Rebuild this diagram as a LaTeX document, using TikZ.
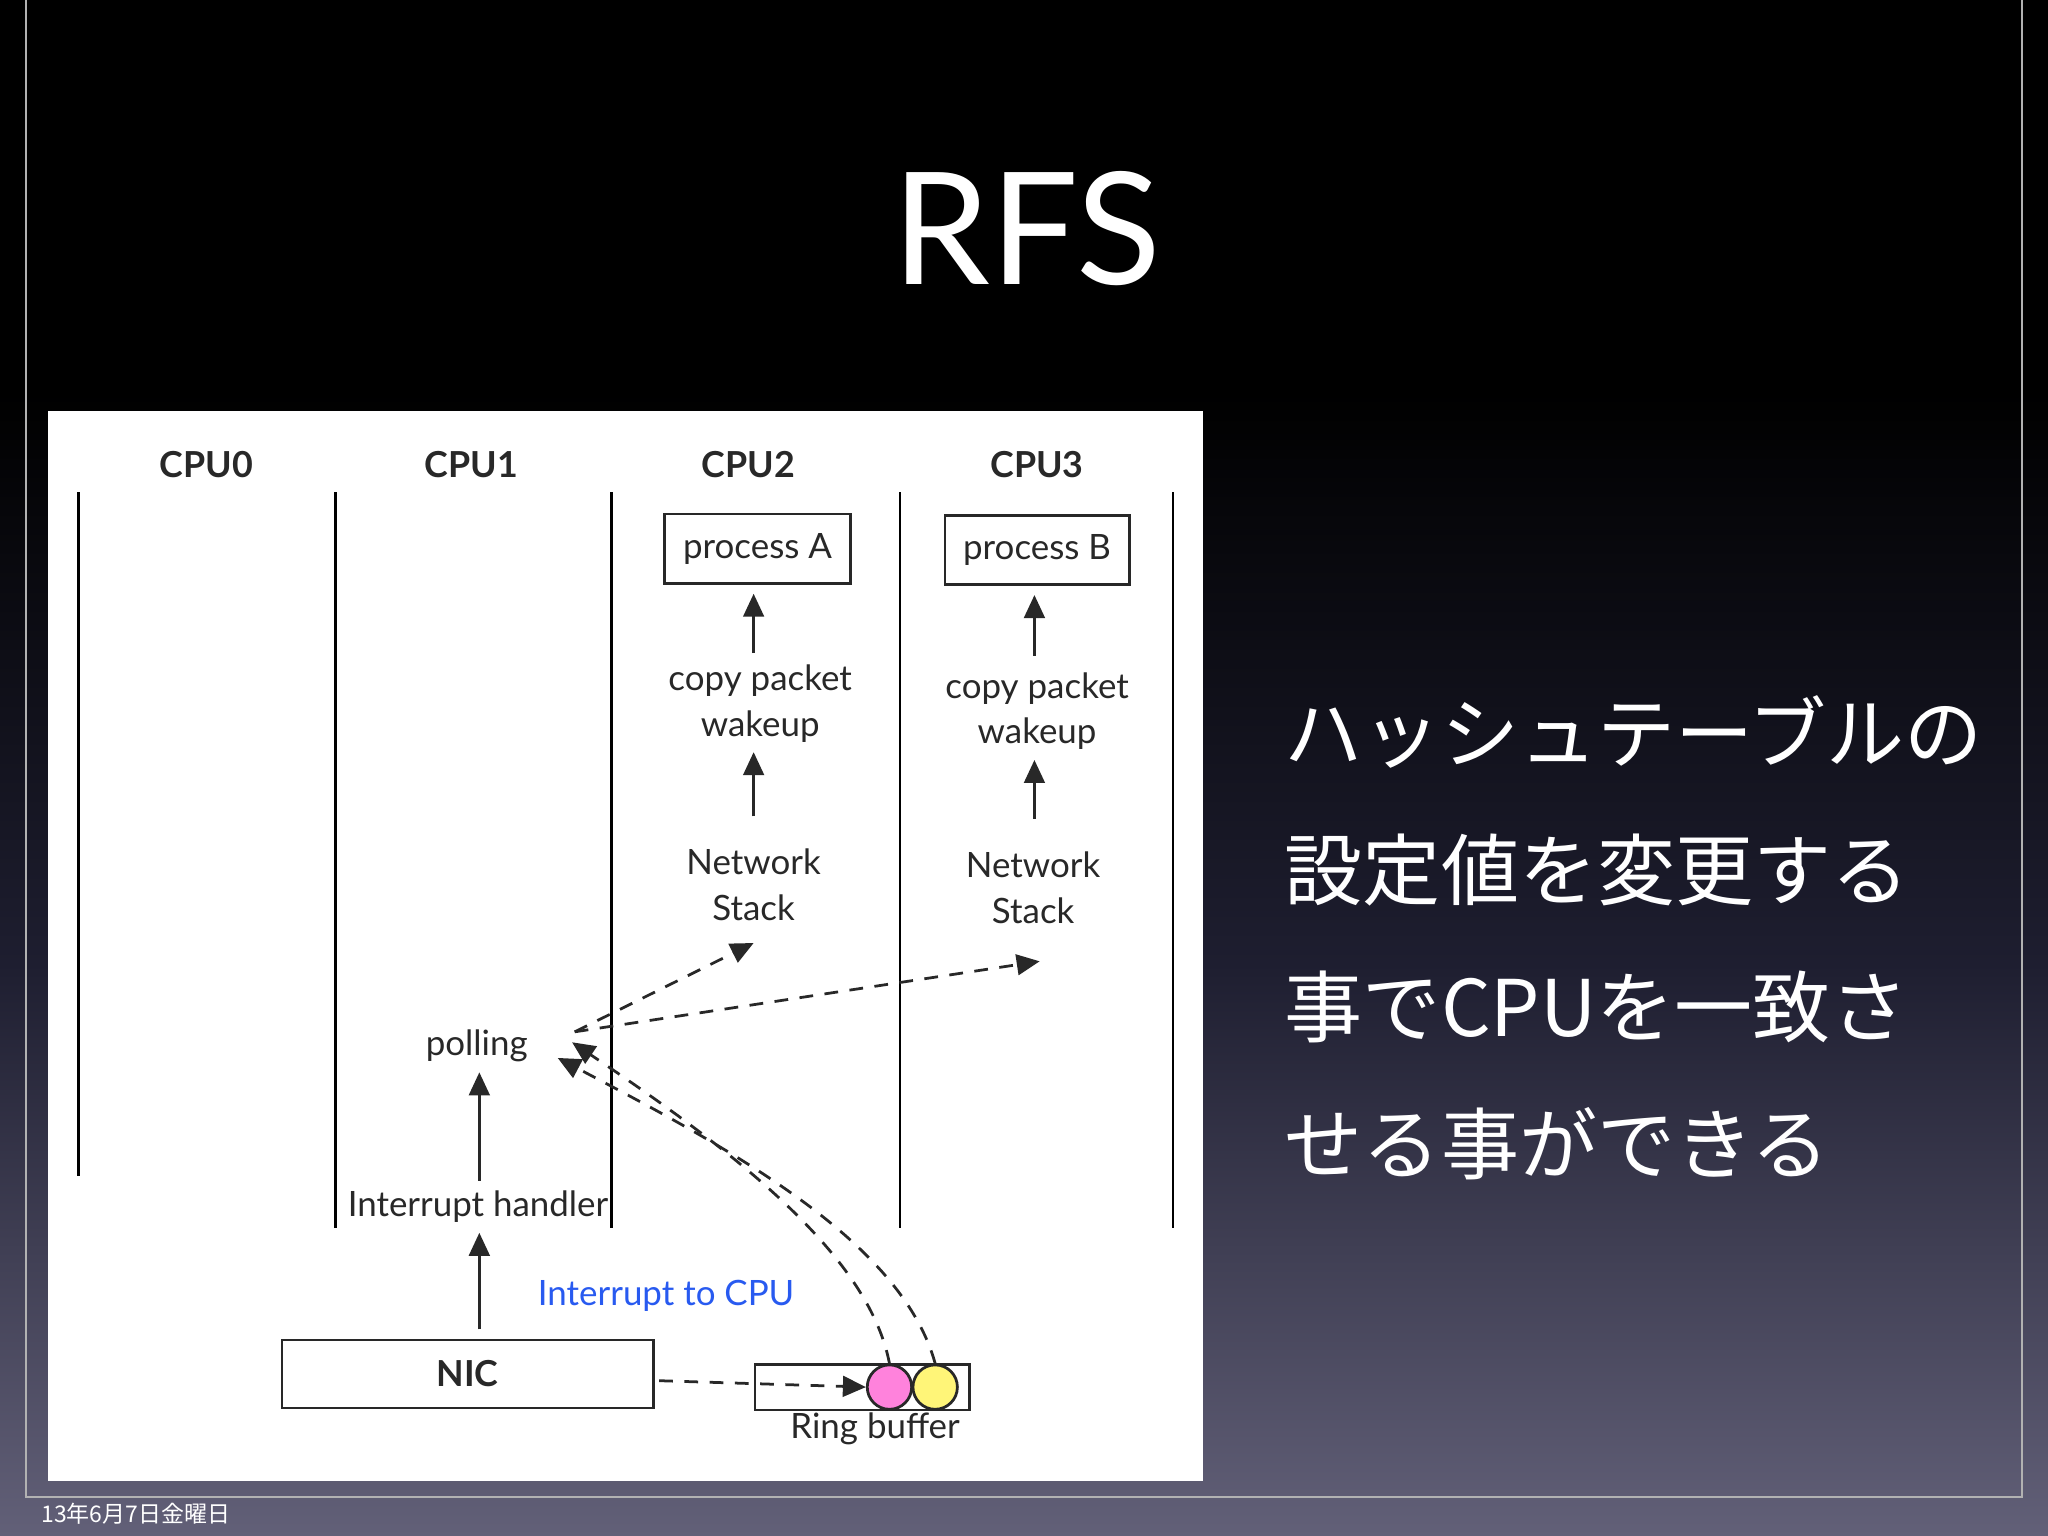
\documentclass[tikz,border=0pt]{standalone}
\usepackage{fontspec}
\setmainfont{Lato}
\newfontfamily\cjk{Noto Sans CJK JP}
\usetikzlibrary{arrows.meta}
\definecolor{slidebot}{RGB}{98,96,120}
\definecolor{slidemid}{RGB}{30,30,48}
\definecolor{ink}{RGB}{40,40,40}
\definecolor{irqblue}{RGB}{40,90,240}
\definecolor{ringpink}{RGB}{255,130,220}
\definecolor{ringyellow}{RGB}{255,245,120}
\begin{document}
\begin{tikzpicture}[x=0.01cm,y=-0.01cm,
  lbl/.style={font=\fontsize{7.6}{9}\selectfont,text=ink,inner sep=0pt},
  cpu/.style={font=\bfseries\fontsize{7.8}{9}\selectfont,text=ink,inner sep=0pt},
  box/.style={draw=ink,line width=0.6pt,fill=white},
  lane/.style={draw=black,line width=0.6pt},
  up/.style={-{Triangle[length=5pt,width=4.5pt]},line width=0.6pt,draw=ink,shorten >=2pt,shorten <=2pt},
  dsh/.style={-{Triangle[length=5pt,width=4.5pt]},line width=0.6pt,draw=ink,dash pattern=on 3pt off 2.5pt}]
\useasboundingbox (0,0) rectangle (1568,1176);
% slide background
\fill[black] (0,0) rectangle (1568,300);
\shade[top color=black,bottom color=slidebot,middle color=slidemid] (0,300) rectangle (1568,1176);
\draw[gray!60,line width=0.3pt] (20,0) -- (20,1146) -- (1548,1146) -- (1548,0);
\node[text=white,font=\fontsize{34}{40}\selectfont] (title) at (786,175) {RFS};
\node[text=white,font=\cjk\fontsize{17}{29.8}\selectfont,align=left,anchor=north west,inner sep=0pt] (body) at (983,532)
  {ハッシュテーブルの\\設定値を変更する\\事でCPUを一致さ\\せる事ができる};
\node[text=white,font=\cjk\fontsize{5}{6}\selectfont,inner sep=0pt,anchor=west] (date) at (31,1159) {13年6月7日金曜日};
% diagram panel
\fill[white] (37,315) rectangle (921,1134);
\draw[lane] (60,377) -- (60,900);
\foreach \x in {257,468,689,898} \draw[lane] (\x,377) -- (\x,940);
\node[cpu] (c0) at (158,356) {CPU0};
\node[cpu] (c1) at (361,356) {CPU1};
\node[cpu] (c2) at (573,356) {CPU2};
\node[cpu] (c3) at (794,356) {CPU3};
% CPU2 column
\node[box,lbl,minimum width=1.42cm,minimum height=0.53cm] (pa) at (580,420) {process A};
\node[lbl] (cpa) at (582,521) {copy packet};
\node[lbl] (wka) at (582,556) {wakeup};
\node[lbl] (nwa) at (577,660) {Network};
\node[lbl] (sta) at (577,695) {Stack};
\draw[up] (577,507) -- (pa.south -| 577,0);
\draw[up] (577,632) -- (wka.south -| 577,0);
% CPU3 column
\node[box,lbl,minimum width=1.41cm,minimum height=0.53cm] (pb) at (794,421) {process B};
\node[lbl] (cpb) at (794,527) {copy packet};
\node[lbl] (wkb) at (794,562) {wakeup};
\node[lbl] (nwb) at (791,662) {Network};
\node[lbl] (stb) at (791,697) {Stack};
\draw[up] (792,509) -- (pb.south -| 792,0);
\draw[up] (792,634) -- (wkb.south -| 792,0);
% CPU1 column
\node[lbl] (poll) at (365,801) {polling};
\node[lbl] (ih) at (366,924) {Interrupt handler};
\node[box,cpu,minimum width=2.84cm,minimum height=0.52cm] (nic) at (358,1052) {NIC};
\draw[up] (ih.north -| 367,0) -- (poll.south -| 367,0);
\draw[up] (nic.north -| 367,0) -- (ih.south -| 367,0);
\node[font=\fontsize{7.6}{9}\selectfont,text=irqblue,inner sep=0pt] (irq) at (510,992) {Interrupt to CPU};
% ring buffer
\node[box,minimum width=1.64cm,minimum height=0.35cm,inner sep=0pt] (ring) at (660,1062) {};
\node[draw=ink,line width=0.6pt,fill=ringpink,circle,minimum size=0.34cm,inner sep=0pt] (pk) at (681,1062) {};
\node[draw=ink,line width=0.6pt,fill=ringyellow,circle,minimum size=0.34cm,inner sep=0pt] (yl) at (716,1062) {};
\node[lbl] (rbl) at (670,1094) {Ring buffer};
\draw[dsh,shorten <=1pt] (nic.east |- 0,1057) -- (pk.west);
% packet paths to polling
\coordinate (pl1) at (438,798);
\coordinate (pl2) at (427,810);
\draw[dsh] (pk.north) .. controls (665,960) and (560,880) .. (pl1);
\draw[dsh] (yl.north) .. controls (690,950) and (560,880) .. (pl2);
% steering to process CPUs
\coordinate (src) at (440,790);
\draw[dsh] (src) -- (sta.south |- 0,722);
\draw[dsh] (src) -- (796,736);
\end{tikzpicture}
\end{document}
